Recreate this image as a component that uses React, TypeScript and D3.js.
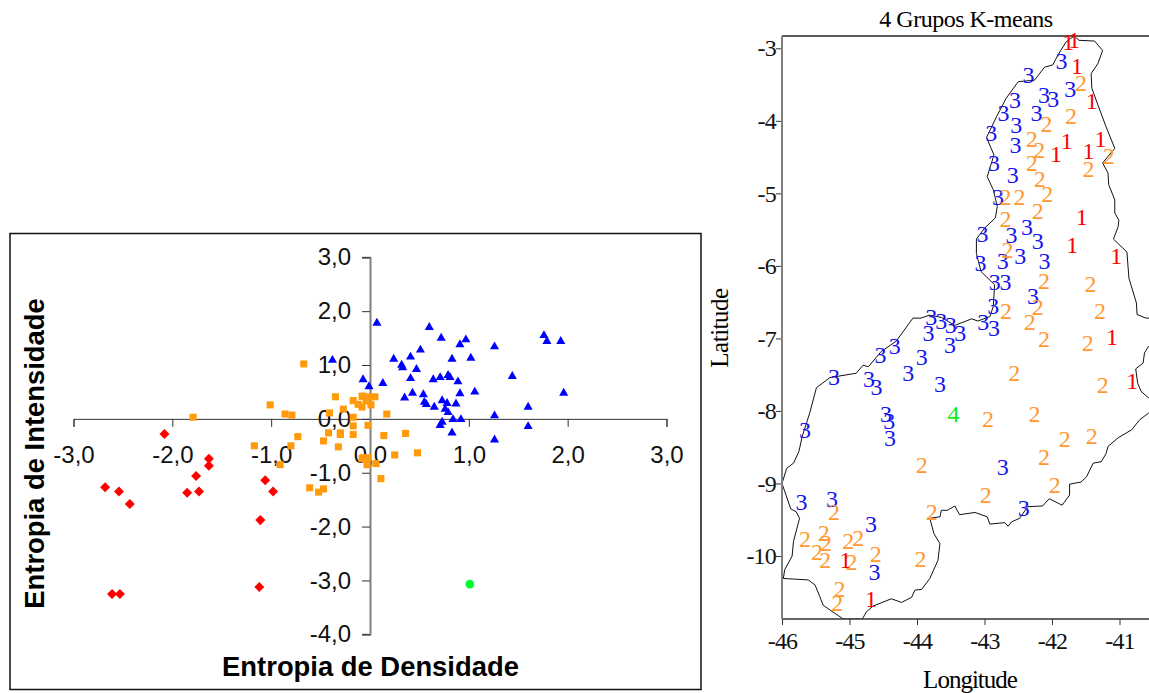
import React, { useEffect, useRef } from 'react';
import * as d3 from 'd3';

type Pt = [number, number];

// left chart: [densidade, intensidade]
const grupo1: Pt[] = [[-2.08,-0.28],[-1.63,-0.74],[-1.63,-0.87],[-1.76,-1.06],[-2.68,-1.27],[-2.54,-1.35],[-2.43,-1.58],[-1.85,-1.37],[-1.73,-1.35],[-1.06,-1.14],[-0.98,-1.35],[-1.11,-1.88],[-1.12,-3.12],[-2.61,-3.25],[-2.53,-3.25]];
const grupo2: Pt[] = [[-0.67,1.02],[-1.79,0.03],[-1.01,0.26],[-0.86,0.09],[-0.79,0.07],[-0.73,-0.33],[-0.35,0.41],[-0.27,0.18],[-0.41,0.11],[-0.17,0.34],[-0.12,0.27],[-0.08,0.42],[-0.17,0.03],[-0.17,-0.13],[-0.42,-0.26],[-0.30,-0.26],[-0.30,-0.29],[-0.17,-0.29],[-0.47,-0.41],[-0.32,-0.52],[-0.80,-0.50],[-1.17,-0.50],[-0.07,0.42],[0,0.41],[0.05,0.41],[-0.04,0.33],[-0.08,0.22],[0.01,0.26],[0.17,0.09],[-0.02,-0.12],[0.14,-0.31],[0.36,-0.27],[0.25,-0.67],[0.48,-0.63],[-0.07,-0.72],[-0.02,-0.72],[-0.91,-0.85],[-0.61,-1.28],[-0.52,-1.36],[-0.47,-1.30],[-0.08,-0.74],[-0.03,-0.85],[0.06,-0.83],[0.11,-1.11]];
const grupo3: Pt[] = [[0.07,1.78],[0.60,1.70],[0.72,1.50],[0.97,1.47],[0.91,1.38],[1.76,1.55],[1.79,1.44],[1.93,1.44],[1.26,1.34],[0.51,1.28],[0.41,1.15],[0.24,1.11],[0.83,1.11],[1.02,1.13],[0.32,1.00],[0.33,0.95],[0.47,0.92],[1.44,0.79],[0.41,0.75],[0.64,0.73],[0.71,0.77],[0.79,0.81],[0.81,0.77],[0.89,0.69],[0.13,0.66],[-0.07,0.73],[-0.01,0.60],[0.91,0.47],[1.06,0.50],[1.96,0.48],[0.43,0.48],[0.54,0.45],[0.35,0.39],[0.73,0.34],[0.78,0.29],[0.87,0.28],[0.55,0.31],[0.57,0.27],[0.65,0.22],[0.76,0.18],[0.79,0.12],[1.60,0.22],[1.26,0.06],[0.84,-0.01],[0.92,-0.01],[0.73,-0.06],[0.71,-0.12],[1.60,-0.14],[0.83,-0.26],[1.26,-0.39],[-0.38,1.09]];
const grupo4: Pt[] = [[1.01,-3.07]];

const xTicksLeft = [-3, -2, -1, 0, 1, 2, 3];
const yTicksLeft = [-4, -3, -2, -1, 0, 1, 2, 3];

// map: [longitude, latitude]
const mapa1: Pt[] = [[-41.76,-2.92],[-41.67,-2.89],[-41.63,-3.24],[-41.41,-3.73],[-41.78,-4.28],[-41.28,-4.25],[-41.46,-4.42],[-41.94,-4.46],[-41.56,-5.33],[-41.70,-5.71],[-41.05,-5.86],[-41.11,-6.98],[-40.81,-7.59],[-45.06,-10.06],[-44.68,-10.60]];
const mapa2: Pt[] = [[-41.57,-3.48],[-41.72,-3.94],[-42.08,-4.04],[-42.30,-4.25],[-42.19,-4.41],[-41.16,-4.49],[-42.30,-4.58],[-41.46,-4.67],[-42.18,-4.81],[-42.69,-5.05],[-42.48,-5.05],[-42.07,-5.01],[-42.21,-5.25],[-42.69,-5.36],[-42.66,-5.78],[-42.12,-6.21],[-41.43,-6.25],[-42.21,-6.57],[-41.29,-6.62],[-42.68,-6.62],[-42.33,-6.77],[-42.12,-7.01],[-41.47,-7.07],[-42.56,-7.48],[-41.25,-7.65],[-42.95,-8.11],[-42.26,-8.04],[-41.81,-8.39],[-41.41,-8.35],[-42.12,-8.64],[-43.93,-8.75],[-41.96,-9.02],[-42.98,-9.16],[-45.23,-9.40],[-43.78,-9.40],[-45.66,-9.76],[-45.38,-9.69],[-45.35,-9.82],[-45.02,-9.79],[-44.87,-9.75],[-45.48,-9.95],[-45.36,-10.05],[-44.61,-9.98],[-44.97,-10.08],[-43.95,-10.04],[-45.15,-10.45],[-45.18,-10.65]];
const mapa3: Pt[] = [[-41.86,-3.17],[-42.35,-3.37],[-41.73,-3.56],[-42.12,-3.65],[-41.98,-3.70],[-42.55,-3.72],[-42.72,-3.90],[-42.23,-3.90],[-42.53,-4.06],[-42.90,-4.17],[-42.54,-4.33],[-42.86,-4.58],[-42.58,-4.75],[-42.80,-5.05],[-42.37,-5.46],[-43.03,-5.56],[-42.60,-5.57],[-42.21,-5.66],[-42.47,-5.86],[-42.73,-5.93],[-42.11,-5.93],[-43.06,-5.96],[-42.85,-6.23],[-42.69,-6.22],[-42.28,-6.41],[-42.87,-6.56],[-43.79,-6.70],[-43.64,-6.76],[-43.50,-6.82],[-43.02,-6.77],[-43.83,-6.93],[-43.36,-6.92],[-42.86,-6.86],[-43.51,-7.09],[-44.33,-7.11],[-44.54,-7.23],[-43.93,-7.26],[-44.13,-7.48],[-45.23,-7.53],[-44.71,-7.56],[-44.60,-7.67],[-43.66,-7.63],[-44.46,-8.04],[-44.41,-8.14],[-45.66,-8.26],[-44.40,-8.38],[-42.73,-8.78],[-45.71,-9.25],[-45.26,-9.22],[-42.42,-9.34],[-44.68,-9.56],[-44.63,-10.22]];
const mapa4: Pt[] = [[-43.46,-8.04]];

const contorno: Pt[] = [[-41.67,-2.83],[-41.60,-2.89],[-41.37,-2.90],[-41.25,-3.03],[-41.32,-3.21],[-41.42,-3.35],[-41.41,-3.55],[-41.32,-3.78],[-41.20,-4.08],[-41.07,-4.38],[-41.25,-4.58],[-41.17,-4.72],[-41.16,-4.88],[-41.07,-5.09],[-41.07,-5.27],[-41.01,-5.37],[-41.02,-5.46],[-41.09,-5.63],[-40.89,-5.81],[-40.86,-6.17],[-40.75,-6.51],[-40.74,-6.67],[-40.61,-6.72],[-40.40,-6.72],[-40.40,-7.11],[-40.57,-7.11],[-40.63,-7.20],[-40.65,-7.34],[-40.76,-7.42],[-40.73,-7.62],[-40.68,-7.73],[-40.57,-7.82],[-40.40,-7.90],[-40.40,-8.03],[-40.57,-8.03],[-40.70,-8.12],[-40.82,-8.26],[-41.02,-8.37],[-41.17,-8.49],[-41.20,-8.59],[-41.27,-8.70],[-41.39,-8.72],[-41.49,-8.91],[-41.57,-8.98],[-41.74,-9.01],[-41.74,-9.16],[-41.85,-9.30],[-42.04,-9.21],[-42.14,-9.31],[-42.36,-9.32],[-42.48,-9.48],[-42.60,-9.53],[-42.65,-9.59],[-42.70,-9.54],[-42.92,-9.56],[-42.96,-9.46],[-43.14,-9.40],[-43.37,-9.43],[-43.44,-9.31],[-43.55,-9.37],[-43.64,-9.37],[-43.66,-9.46],[-43.81,-9.48],[-43.75,-9.69],[-43.66,-9.83],[-43.69,-10.06],[-43.81,-10.31],[-43.93,-10.46],[-44.03,-10.47],[-44.08,-10.57],[-44.23,-10.64],[-44.38,-10.59],[-44.65,-10.69],[-44.75,-10.77],[-44.81,-10.87],[-45.09,-10.87],[-45.39,-10.68],[-45.44,-10.56],[-45.51,-10.40],[-45.61,-10.33],[-45.98,-10.31],[-45.96,-10.19],[-45.85,-10.0],[-45.83,-9.80],[-45.74,-9.48],[-45.79,-9.39],[-45.87,-9.35],[-46.0,-9.0],[-45.93,-8.79],[-45.83,-8.72],[-45.75,-8.56],[-45.70,-8.35],[-45.59,-8.03],[-45.49,-7.68],[-45.29,-7.54],[-44.90,-7.48],[-44.80,-7.37],[-44.72,-7.39],[-44.53,-7.18],[-44.31,-7.04],[-44.06,-6.72],[-43.94,-6.72],[-43.82,-6.68],[-43.64,-6.71],[-43.44,-6.82],[-43.19,-6.73],[-43.10,-6.76],[-42.92,-6.70],[-42.87,-6.56],[-42.85,-6.26],[-43.05,-6.08],[-43.12,-5.83],[-43.12,-5.63],[-43.00,-5.48],[-42.84,-5.34],[-42.81,-5.18],[-42.87,-4.95],[-42.96,-4.77],[-42.93,-4.68],[-42.86,-4.47],[-42.97,-4.23],[-42.82,-3.94],[-42.68,-3.69],[-42.50,-3.46],[-42.26,-3.44],[-42.11,-3.26],[-41.99,-3.23],[-41.91,-3.09],[-41.79,-2.91]];

const lonTicks = [-46, -45, -44, -43, -42, -41];
const latTicks = [-3, -4, -5, -6, -7, -8, -9, -10];

const sans = '"Liberation Sans", Arial, sans-serif';
const serif = '"Liberation Serif", "Times New Roman", serif';

function App() {
  const svgRef = useRef<SVGSVGElement>(null);

  useEffect(() => {
    const svg = d3.select(svgRef.current);
    svg.selectAll('*').remove();

    // ---- scatter
    const x = d3.scaleLinear().domain([-3, 3]).range([73.5, 666.5]);
    const y = d3.scaleLinear().domain([-4, 3]).range([634.3, 257.3]);
    const fmt = (d: any) => d3.format('.1f')(d).replace('.', ',').replace('−', '-');

    svg.append('rect')
      .attr('x', 10).attr('y', 233.5).attr('width', 691).attr('height', 456)
      .attr('fill', 'white').attr('stroke', '#111').attr('stroke-width', 1.5);

    const gx = svg.append('g')
      .attr('transform', `translate(0,${y(0)})`)
      .call(d3.axisBottom(x).tickValues(xTicksLeft).tickFormat(fmt).tickSize(8).tickPadding(19));
    gx.select('.domain').attr('stroke', '#333');
    gx.selectAll('line').attr('stroke', '#333');
    gx.selectAll('text').attr('font-family', sans).attr('font-size', 24).attr('fill', '#111');

    const gy = svg.append('g')
      .attr('transform', `translate(${x(0)},0)`)
      .call(d3.axisLeft(y).tickValues(yTicksLeft).tickFormat(fmt).tickSize(8).tickPadding(11));
    gy.select('.domain').attr('stroke', '#808080').attr('stroke-width', 2);
    gy.selectAll('line').attr('stroke', '#333');
    gy.selectAll('text').attr('font-family', sans).attr('font-size', 24).attr('fill', '#111');

    svg.append('text')
      .attr('x', 370.5).attr('y', 676).attr('text-anchor', 'middle')
      .attr('font-family', sans).attr('font-weight', 'bold').attr('font-size', 27.4)
      .text('Entropia de Densidade');
    svg.append('text')
      .attr('transform', 'translate(44,453.5) rotate(-90)').attr('text-anchor', 'middle')
      .attr('font-family', sans).attr('font-weight', 'bold').attr('font-size', 27.4)
      .text('Entropia de Intensidade');

    const series: [Pt[], any, number, string][] = [
      [grupo1, d3.symbolDiamond2, 64, '#ff0000'],
      [grupo2, d3.symbolSquare, 50, '#ff9a0a'],
      [grupo3, d3.symbolTriangle, 36, '#0000ff'],
      [grupo4, d3.symbolCircle, 60, '#00ff30'],
    ];
    series.forEach(([data, type, size, color]) => {
      svg.append('g').selectAll('path')
        .data(data)
        .enter()
        .append('path')
        .attr('d', d3.symbol().type(type).size(size))
        .attr('transform', (d) => `translate(${x(d[0])},${y(d[1])})`)
        .attr('fill', color);
    });

    // ---- map
    const lon = d3.scaleLinear().domain([-46, -41]).range([782, 1119.5]);
    const lat = d3.scaleLinear().domain([-3, -10]).range([48.3, 556]);
    const top = 36;
    const bottom = 619;
    const right = 1149;

    svg.append('clipPath').attr('id', 'mapa')
      .append('rect').attr('x', 782).attr('y', top).attr('width', right - 782).attr('height', bottom - top);

    const line = d3.line<Pt>().x((d) => lon(d[0])).y((d) => lat(d[1]));
    svg.append('path')
      .attr('d', line(contorno) + 'Z')
      .attr('clip-path', 'url(#mapa)')
      .attr('fill', 'none').attr('stroke', '#111').attr('stroke-width', 1);

    svg.append('line').attr('x1', 782).attr('x2', right).attr('y1', top).attr('y2', top).attr('stroke', '#222').attr('stroke-width', 1.5);

    const gLon = svg.append('g')
      .attr('transform', `translate(0,${bottom})`)
      .call(d3.axisBottom(lon).tickValues(lonTicks).tickFormat((d: any) => `-${Math.abs(d)}`).tickSize(6).tickPadding(7));
    gLon.select('.domain').remove();
    gLon.append('line').attr('x1', 782).attr('x2', right).attr('stroke', '#333').attr('stroke-width', 1.5);
    gLon.selectAll('.tick line').attr('stroke', '#333');
    gLon.selectAll('text').attr('font-family', serif).attr('font-size', 24).attr('letter-spacing', -0.8).attr('fill', '#111');

    const gLat = svg.append('g')
      .attr('transform', 'translate(782,0)')
      .call(d3.axisLeft(lat).tickValues(latTicks).tickFormat((d: any) => `-${Math.abs(d)}`).tickSize(6).tickPadding(0));
    gLat.select('.domain').remove();
    gLat.append('line').attr('y1', top).attr('y2', bottom).attr('stroke', '#808080').attr('stroke-width', 2);
    gLat.selectAll('.tick line').attr('stroke', '#333');
    gLat.selectAll('text').attr('font-family', serif).attr('font-size', 24).attr('letter-spacing', -0.8).attr('fill', '#111');

    svg.append('text')
      .attr('x', 966).attr('y', 27).attr('text-anchor', 'middle')
      .attr('font-family', serif).attr('font-size', 24).attr('letter-spacing', -0.5)
      .text('4 Grupos K-means');
    svg.append('text')
      .attr('x', 970).attr('y', 688).attr('text-anchor', 'middle')
      .attr('font-family', serif).attr('font-size', 25).attr('letter-spacing', -1)
      .text('Longitude');
    svg.append('text')
      .attr('transform', 'translate(728,328) rotate(-90)').attr('text-anchor', 'middle')
      .attr('font-family', serif).attr('font-size', 25).attr('letter-spacing', -0.5)
      .text('Latitude');

    const grupos: [Pt[], string, string][] = [
      [mapa3, '3', '#1414f0'],
      [mapa2, '2', '#ff9933'],
      [mapa1, '1', '#ff0000'],
      [mapa4, '4', '#00ee22'],
    ];
    grupos.forEach(([data, label, color]) => {
      svg.append('g').selectAll('text')
        .data(data)
        .enter()
        .append('text')
        .attr('x', (d) => lon(d[0]))
        .attr('y', (d) => lat(d[1]))
        .attr('dy', '0.33em')
        .attr('text-anchor', 'middle')
        .attr('font-family', serif).attr('font-size', 24)
        .attr('fill', color)
        .text(label);
    });
  }, []);

  return (
    <svg ref={svgRef} width={1149} height={693} style={{ position: 'absolute', left: 0, top: 0 }}></svg>
  );
}

export default App;
